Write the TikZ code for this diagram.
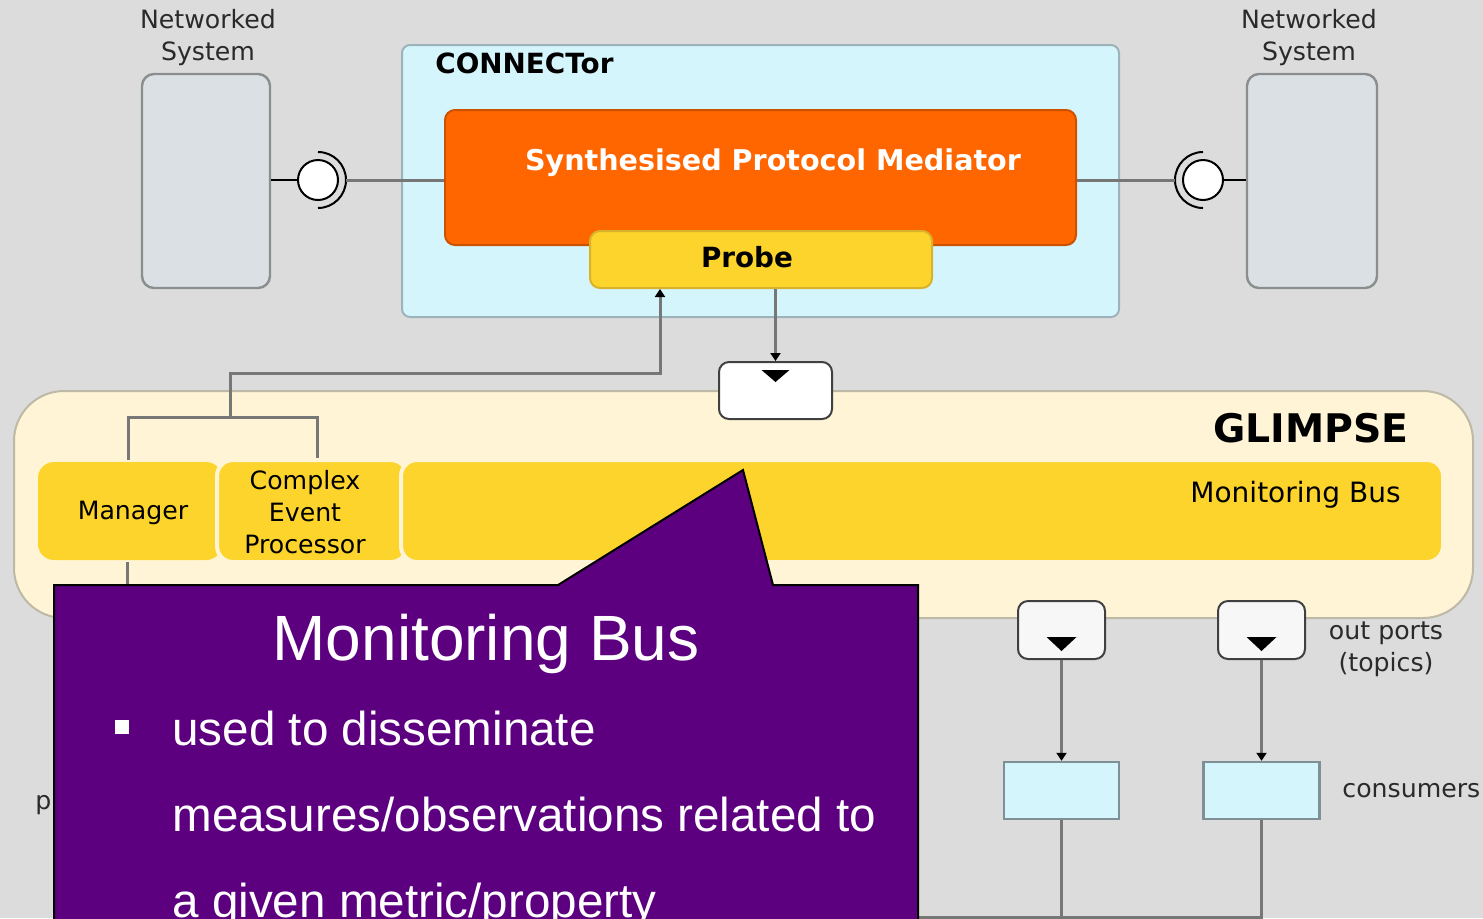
\documentclass[tikz,border=0pt]{standalone}
\usepackage{fontspec}
\setmainfont{DejaVu Sans}
\newfontfamily\calloutfont{Liberation Sans}
\usetikzlibrary{arrows.meta,calc}
\definecolor{bgc}{HTML}{DCDCDC}
\definecolor{nsfill}{HTML}{DAE0E3}
\definecolor{nsline}{HTML}{8A8E8E}
\definecolor{cyanf}{HTML}{D5F5FD}
\definecolor{cyanl}{HTML}{9DB3BA}
\definecolor{orangef}{HTML}{FF6600}
\definecolor{orangel}{HTML}{CC5200}
\definecolor{yellowf}{HTML}{FDD42B}
\definecolor{yellowl}{HTML}{D9B22C}
\definecolor{creamf}{HTML}{FFF5D6}
\definecolor{creaml}{HTML}{BDB9A6}
\definecolor{purplef}{HTML}{5C0080}
\definecolor{wirec}{HTML}{777777}
\definecolor{txtc}{HTML}{2A2A2A}
\tikzset{
  lbl/.style={text=txtc, inner sep=0pt, font=\fontsize{12.6}{16}\selectfont},
  nsbox/.style={draw=nsline, fill=nsfill, line width=1.2pt, rounded corners=6pt, inner sep=0pt},
  conbox/.style={draw=cyanl, fill=cyanf, line width=1pt, rounded corners=4pt, inner sep=0pt},
  medbox/.style={draw=orangel, fill=orangef, line width=1pt, rounded corners=5pt, inner sep=0pt},
  probebox/.style={draw=yellowl, fill=yellowf, line width=1pt, rounded corners=5pt, inner sep=0pt},
  glbox/.style={draw=creaml, fill=creamf, line width=1pt, rounded corners=25pt, inner sep=0pt},
  barbox/.style={fill=yellowf, draw=creamf, line width=2pt, rounded corners=8pt, inner sep=0pt},
  portbox/.style={draw=black!75, line width=1pt, rounded corners=5pt, inner sep=0pt},
  consbox/.style={draw=cyanl!80!black, fill=cyanf, line width=1.2pt, inner sep=0pt},
  ball/.style={circle, draw=black, fill=white, line width=1pt, minimum size=20pt, inner sep=0pt},
  wire/.style={draw=wirec, line width=1.5pt},
  blk/.style={draw=black, line width=1pt},
  tip/.style={-{Triangle[length=4pt,width=5pt,color=black]}},
  boldlbl/.style={inner sep=0pt, font=\bfseries\fontsize{13.9}{16}\selectfont}
}
\begin{document}
\begin{tikzpicture}[x=0.5pt,y=-0.5pt]
\useasboundingbox (0,0) rectangle (1483,918);
\fill[bgc] (0,0) rectangle (1483,918);

% networked systems
\node[nsbox, minimum width=64pt, minimum height=107pt] (ns1) at (206,181) {};
\node[lbl, align=center] (ns1lbl) at (208,38) {Networked\\System};
\node[nsbox, minimum width=65pt, minimum height=107pt] (ns2) at (1312,181) {};
\node[lbl, align=center] (ns2lbl) at (1309,38) {Networked\\System};

% connector
\node[conbox, minimum width=358.5pt, minimum height=136pt] (con) at (760.5,181) {};
\node[boldlbl, anchor=west] (conlbl) at (435,63) {CONNECTor};
\node[medbox, minimum width=315.5pt, minimum height=67.5pt] (med) at (760.5,177.5) {};
\node[boldlbl, text=white, font=\bfseries\fontsize{14.3}{16}\selectfont] (medlbl) at (773,163) {Synthesised Protocol Mediator};
\node[probebox, minimum width=171pt, minimum height=28.5pt] (probe) at (761,259.5) {};
\node[boldlbl, text=black] (probelbl) at (747,257) {Probe};

% interfaces
\node[ball] (ballL) at (318,180) {};
\draw[blk] ([yshift=14pt]ballL.center) arc[start angle=90, end angle=-90, radius=14pt];
\node[ball] (ballR) at (1203,180) {};
\draw[blk] ([yshift=14pt]ballR.center) arc[start angle=90, end angle=270, radius=14pt];
\coordinate (sockL) at (346,180);
\coordinate (sockR) at (1175,180);
\draw[blk] (ns1.east |- ballL) -- (ballL.west);
\draw[wire] (sockL) -- (sockL -| med.west);
\draw[wire] (med.east |- sockR) -- (sockR);
\draw[blk] (ballR.east) -- (ballR.east -| ns2.west);

% GLIMPSE
\node[glbox, minimum width=729.5pt, minimum height=113.5pt] (gl) at (743.5,504.5) {};
\node[inner sep=0pt, anchor=east, font=\bfseries\fontsize{19.7}{22}\selectfont] (gllbl) at (1409,428) {GLIMPSE};
\node[barbox, draw=none, minimum width=92pt, minimum height=49pt] (mgr) at (130,511) {};
\node[barbox, minimum width=95pt, minimum height=51pt] (cep) at (312,511) {};
\node[barbox, minimum width=521pt, minimum height=51pt] (bus) at (922,511) {};
\node[lbl, text=black] (mgrlbl) at (133,513) {Manager};
\node[lbl, text=black, align=center] (ceplbl) at (305,512) {Complex\\Event\\Processor};
\node[lbl, text=black, anchor=east, font=\fontsize{14}{16}\selectfont] (buslbl) at (1401,495) {Monitoring Bus};

% wires manager / CEP to probe
\coordinate (j) at (230,417);
\coordinate (k) at (660,373);
\draw[wire] ([xshift=-1pt]mgr.north) |- (j) -| ([xshift=2.5pt]cep.north);
\draw[wire, tip] (j) |- (k) -- (k |- probe.south);
\draw[wire] ([xshift=-1.5pt]mgr.south) -- ++(0,-20pt);

% ports
\node[portbox, fill=white, minimum width=56.5pt, minimum height=28.5pt] (port0) at (775.5,390.5) {};
\fill ([shift={(-7pt,-4.5pt)}]port0.north) -- ++(14pt,0) -- ++(-7pt,-6pt) -- cycle;
\draw[wire, tip] (port0.north |- probe.south) -- (port0.north);

\node[portbox, fill=black!3, minimum width=43.5pt, minimum height=29pt] (port1) at (1061.5,630) {};
\node[portbox, fill=black!3, minimum width=43.5pt, minimum height=29pt] (port2) at (1261.5,630) {};
\fill ([shift={(-7.5pt,-18.5pt)}]port1.north) -- ++(15pt,0) -- ++(-7.5pt,-7pt) -- cycle;
\fill ([shift={(-7.5pt,-18.5pt)}]port2.north) -- ++(15pt,0) -- ++(-7.5pt,-7pt) -- cycle;
\node[lbl, align=center] (outlbl) at (1386,649) {out ports\\(topics)};

% consumers
\node[consbox, minimum width=57.5pt, minimum height=28.5pt] (cons1) at (1061.5,790.5) {};
\node[consbox, minimum width=58pt, minimum height=28.5pt] (cons2) at (1261.5,790.5) {};
\node[lbl, anchor=west] (conslbl) at (1342,791) {consumers};
\draw[wire, tip] (port1.south) -- (cons1.north);
\draw[wire, tip] (port2.south) -- (cons2.north);
\coordinate (bot) at (880,917);
\draw[wire] (cons2.south) |- (bot);
\draw[wire] (cons1.south) -- (cons1.south |- bot);
\node[lbl, anchor=west] (plbl) at (35,805) {p};

% callout
\draw[fill=purplef, draw=black, line width=1pt] (54,585) -- (558,585) -- (743,470) -- (773,585) -- (918,585) -- (918,940) -- (54,940) -- cycle;
\node[text=white, inner sep=0pt, anchor=base, font=\calloutfont\fontsize{32}{38}\selectfont] (cotitle) at (486,660) {Monitoring Bus};
\fill[white] (115,720) rectangle (129,734);
\node[text=white, inner sep=0pt, anchor=base west, font=\calloutfont\fontsize{23.8}{43}\selectfont] (co1) at (172,745) {used to disseminate};
\node[text=white, inner sep=0pt, anchor=base west, font=\calloutfont\fontsize{23.8}{43}\selectfont] (co2) at (172,831) {measures/observations related to};
\node[text=white, inner sep=0pt, anchor=base west, font=\calloutfont\fontsize{23.8}{43}\selectfont] (co3) at (172,917) {a given metric/property};
\end{tikzpicture}
\end{document}
